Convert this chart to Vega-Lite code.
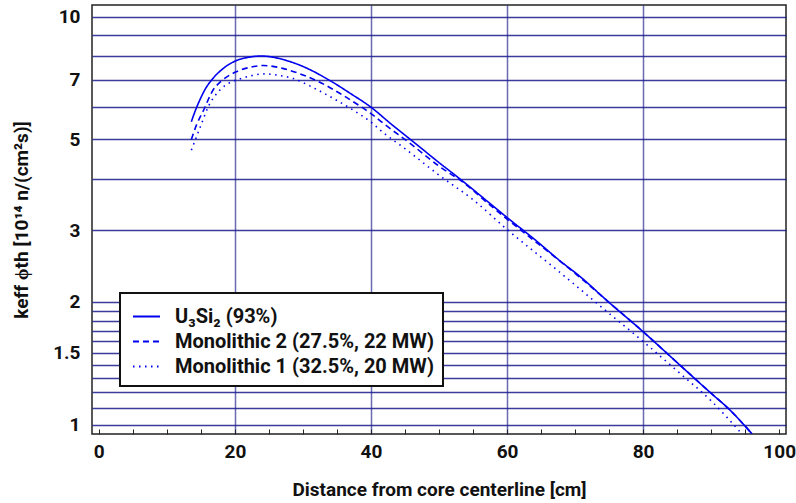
{
  "$schema": "https://vega.github.io/schema/vega-lite/v6.json",
  "width": 694,
  "height": 429,
  "autosize": {"type": "none"},
  "padding": {"left": 92, "top": 5, "right": 10, "bottom": 69},
  "background": "white",
  "config": {
    "font": "Roboto",
    "view": {"stroke": "#222", "strokeWidth": 1.5},
    "axis": {
      "labelFont": "Roboto", "labelFontWeight": "bold", "labelFontSize": 19, "labelColor": "#111",
      "titleFont": "Roboto", "titleFontWeight": "bold", "titleFontSize": 19, "titleColor": "#111",
      "domain": false
    }
  },
  "data": {"values": [
    {"s": "U₃Si₂ (93%)", "x": 13.6, "y": 5.53},
    {"s": "U₃Si₂ (93%)", "x": 14.3, "y": 5.95},
    {"s": "U₃Si₂ (93%)", "x": 14.85, "y": 6.25},
    {"s": "U₃Si₂ (93%)", "x": 15.7, "y": 6.67},
    {"s": "U₃Si₂ (93%)", "x": 16.6, "y": 7.0},
    {"s": "U₃Si₂ (93%)", "x": 18.3, "y": 7.47},
    {"s": "U₃Si₂ (93%)", "x": 20.1, "y": 7.79},
    {"s": "U₃Si₂ (93%)", "x": 22, "y": 7.95},
    {"s": "U₃Si₂ (93%)", "x": 23.9, "y": 8.01},
    {"s": "U₃Si₂ (93%)", "x": 26, "y": 7.93},
    {"s": "U₃Si₂ (93%)", "x": 28.1, "y": 7.76},
    {"s": "U₃Si₂ (93%)", "x": 30, "y": 7.55},
    {"s": "U₃Si₂ (93%)", "x": 33.8, "y": 7.0},
    {"s": "U₃Si₂ (93%)", "x": 37, "y": 6.48},
    {"s": "U₃Si₂ (93%)", "x": 40, "y": 6.0},
    {"s": "U₃Si₂ (93%)", "x": 43, "y": 5.45},
    {"s": "U₃Si₂ (93%)", "x": 46.2, "y": 4.94},
    {"s": "U₃Si₂ (93%)", "x": 50, "y": 4.39},
    {"s": "U₃Si₂ (93%)", "x": 53.6, "y": 3.94},
    {"s": "U₃Si₂ (93%)", "x": 57, "y": 3.54},
    {"s": "U₃Si₂ (93%)", "x": 60.1, "y": 3.21},
    {"s": "U₃Si₂ (93%)", "x": 64, "y": 2.85},
    {"s": "U₃Si₂ (93%)", "x": 67.8, "y": 2.52},
    {"s": "U₃Si₂ (93%)", "x": 70.7, "y": 2.31},
    {"s": "U₃Si₂ (93%)", "x": 74.9, "y": 2.0},
    {"s": "U₃Si₂ (93%)", "x": 80, "y": 1.69},
    {"s": "U₃Si₂ (93%)", "x": 85, "y": 1.42},
    {"s": "U₃Si₂ (93%)", "x": 90.1, "y": 1.19},
    {"s": "U₃Si₂ (93%)", "x": 92.5, "y": 1.097},
    {"s": "U₃Si₂ (93%)", "x": 96, "y": 0.95},
    {"s": "Monolithic 2 (27.5%, 22 MW)", "x": 13.6, "y": 5.0},
    {"s": "Monolithic 2 (27.5%, 22 MW)", "x": 14.4, "y": 5.45},
    {"s": "Monolithic 2 (27.5%, 22 MW)", "x": 15.3, "y": 5.85},
    {"s": "Monolithic 2 (27.5%, 22 MW)", "x": 16.8, "y": 6.61},
    {"s": "Monolithic 2 (27.5%, 22 MW)", "x": 18, "y": 6.95},
    {"s": "Monolithic 2 (27.5%, 22 MW)", "x": 19.3, "y": 7.2},
    {"s": "Monolithic 2 (27.5%, 22 MW)", "x": 20.2, "y": 7.33},
    {"s": "Monolithic 2 (27.5%, 22 MW)", "x": 22, "y": 7.5},
    {"s": "Monolithic 2 (27.5%, 22 MW)", "x": 24.2, "y": 7.59},
    {"s": "Monolithic 2 (27.5%, 22 MW)", "x": 27, "y": 7.47},
    {"s": "Monolithic 2 (27.5%, 22 MW)", "x": 28.1, "y": 7.38},
    {"s": "Monolithic 2 (27.5%, 22 MW)", "x": 30, "y": 7.2},
    {"s": "Monolithic 2 (27.5%, 22 MW)", "x": 32, "y": 6.97},
    {"s": "Monolithic 2 (27.5%, 22 MW)", "x": 35.4, "y": 6.49},
    {"s": "Monolithic 2 (27.5%, 22 MW)", "x": 37, "y": 6.25},
    {"s": "Monolithic 2 (27.5%, 22 MW)", "x": 40.1, "y": 5.77},
    {"s": "Monolithic 2 (27.5%, 22 MW)", "x": 42.1, "y": 5.43},
    {"s": "Monolithic 2 (27.5%, 22 MW)", "x": 45.7, "y": 4.9},
    {"s": "Monolithic 2 (27.5%, 22 MW)", "x": 50.1, "y": 4.29},
    {"s": "Monolithic 2 (27.5%, 22 MW)", "x": 53.6, "y": 3.92},
    {"s": "Monolithic 2 (27.5%, 22 MW)", "x": 57, "y": 3.51},
    {"s": "Monolithic 2 (27.5%, 22 MW)", "x": 60, "y": 3.19},
    {"s": "Monolithic 2 (27.5%, 22 MW)", "x": 65, "y": 2.74},
    {"s": "Monolithic 2 (27.5%, 22 MW)", "x": 70, "y": 2.35},
    {"s": "Monolithic 2 (27.5%, 22 MW)", "x": 74.9, "y": 2.0},
    {"s": "Monolithic 2 (27.5%, 22 MW)", "x": 80, "y": 1.69},
    {"s": "Monolithic 2 (27.5%, 22 MW)", "x": 85, "y": 1.42},
    {"s": "Monolithic 2 (27.5%, 22 MW)", "x": 90.1, "y": 1.19},
    {"s": "Monolithic 2 (27.5%, 22 MW)", "x": 92.5, "y": 1.097},
    {"s": "Monolithic 2 (27.5%, 22 MW)", "x": 96, "y": 0.95},
    {"s": "Monolithic 1 (32.5%, 20 MW)", "x": 13.6, "y": 4.71},
    {"s": "Monolithic 1 (32.5%, 20 MW)", "x": 14.85, "y": 5.33},
    {"s": "Monolithic 1 (32.5%, 20 MW)", "x": 16.1, "y": 6.02},
    {"s": "Monolithic 1 (32.5%, 20 MW)", "x": 17.8, "y": 6.61},
    {"s": "Monolithic 1 (32.5%, 20 MW)", "x": 19.3, "y": 6.9},
    {"s": "Monolithic 1 (32.5%, 20 MW)", "x": 21, "y": 7.06},
    {"s": "Monolithic 1 (32.5%, 20 MW)", "x": 24.4, "y": 7.24},
    {"s": "Monolithic 1 (32.5%, 20 MW)", "x": 26.5, "y": 7.18},
    {"s": "Monolithic 1 (32.5%, 20 MW)", "x": 28.6, "y": 7.05},
    {"s": "Monolithic 1 (32.5%, 20 MW)", "x": 31.5, "y": 6.7},
    {"s": "Monolithic 1 (32.5%, 20 MW)", "x": 34.5, "y": 6.3},
    {"s": "Monolithic 1 (32.5%, 20 MW)", "x": 37.4, "y": 5.9},
    {"s": "Monolithic 1 (32.5%, 20 MW)", "x": 40.1, "y": 5.5},
    {"s": "Monolithic 1 (32.5%, 20 MW)", "x": 41.8, "y": 5.2},
    {"s": "Monolithic 1 (32.5%, 20 MW)", "x": 45, "y": 4.75},
    {"s": "Monolithic 1 (32.5%, 20 MW)", "x": 50, "y": 4.09},
    {"s": "Monolithic 1 (32.5%, 20 MW)", "x": 55, "y": 3.56},
    {"s": "Monolithic 1 (32.5%, 20 MW)", "x": 60, "y": 3.01},
    {"s": "Monolithic 1 (32.5%, 20 MW)", "x": 67.8, "y": 2.36},
    {"s": "Monolithic 1 (32.5%, 20 MW)", "x": 74.9, "y": 1.88},
    {"s": "Monolithic 1 (32.5%, 20 MW)", "x": 79.8, "y": 1.61},
    {"s": "Monolithic 1 (32.5%, 20 MW)", "x": 85, "y": 1.355},
    {"s": "Monolithic 1 (32.5%, 20 MW)", "x": 90.1, "y": 1.14},
    {"s": "Monolithic 1 (32.5%, 20 MW)", "x": 94.5, "y": 0.95}
  ]},
  "mark": {"type": "line", "color": "#0000ee", "strokeWidth": 1.6, "clip": true, "interpolate": "monotone"},
  "encoding": {
    "x": {
      "field": "x", "type": "quantitative",
      "scale": {"domain": [-1, 101], "nice": false, "zero": false},
      "axis": {
        "title": "Distance from core centerline [cm]",
        "values": [0, 5, 10, 15, 20, 25, 30, 35, 40, 45, 50, 55, 60, 65, 70, 75, 80, 85, 90, 95, 100],
        "labelExpr": "datum.value % 20 === 0 ? datum.label : ''",
        "tickSize": -5, "tickColor": "#222", "tickWidth": 1,
        "labelPadding": 13, "titlePadding": 19,
        "gridColor": "#1a1a8c", "gridWidth": 1.5,
        "gridOpacity": {"condition": {"test": "datum.value % 20 === 0 && datum.value > 0 && datum.value < 100", "value": 0.65}, "value": 0}
      }
    },
    "y": {
      "field": "y", "type": "quantitative",
      "scale": {"type": "log", "domain": [0.949, 10.68], "nice": false},
      "axis": {
        "title": "keff ϕth [10¹⁴ n/(cm²s)]",
        "values": [1, 1.1, 1.2, 1.3, 1.4, 1.5, 1.6, 1.7, 1.8, 1.9, 2, 3, 4, 5, 6, 7, 8, 9, 10],
        "labelExpr": "indexof([1, 1.5, 2, 3, 5, 7, 10], datum.value) >= 0 ? format(datum.value, '~g') : ''",
        "tickSize": 0, "labelPadding": 12, "titlePadding": 21,
        "gridColor": "#1a1a8c", "gridWidth": 1.5, "gridOpacity": 0.85
      }
    },
    "strokeDash": {
      "field": "s", "type": "nominal",
      "scale": {
        "domain": ["U₃Si₂ (93%)", "Monolithic 2 (27.5%, 22 MW)", "Monolithic 1 (32.5%, 20 MW)"],
        "range": [[1, 0], [6, 4], [1.5, 4.5]]
      },
      "legend": {
        "orient": "none", "legendX": 28, "legendY": 288, "title": null,
        "padding": 9, "strokeColor": "#111", "fillColor": "white",
        "symbolType": "stroke", "symbolSize": 729, "symbolStrokeWidth": 2, "symbolStrokeColor": "#0000ee",
        "symbolOffset": 3,
        "labelFont": "Roboto", "labelFontSize": 20, "labelFontWeight": "bold", "labelColor": "#111",
        "labelOffset": 14, "labelLimit": 400, "rowPadding": 0,
        "encode": {"legend": {"update": {"strokeWidth": {"value": 2}}}}
      }
    }
  }
}
